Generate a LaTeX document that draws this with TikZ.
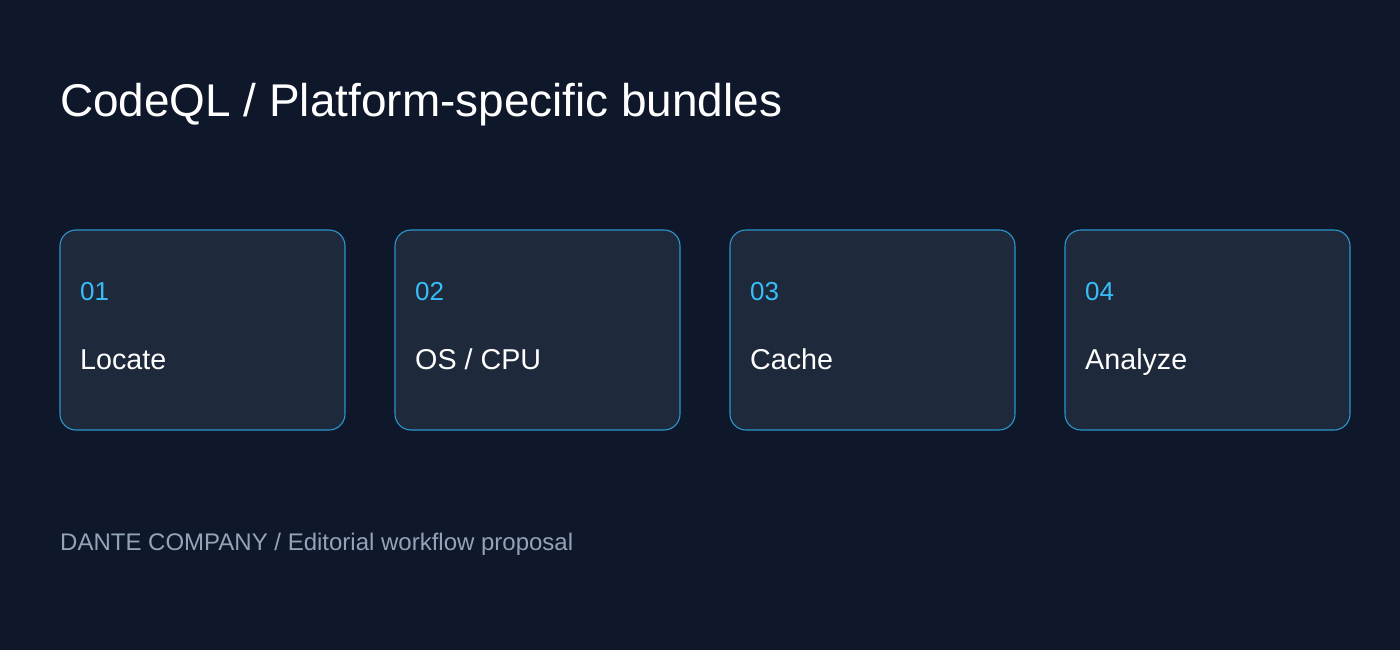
\documentclass[tikz,border=0pt]{standalone}
\usepackage{fontspec}
\setmainfont{Liberation Sans}
\usepackage{xcolor}
\usepackage{tikz}
\usetikzlibrary{positioning}
\definecolor{canvas}{RGB}{15,23,42}
\definecolor{cardbg}{RGB}{30,41,59}
\definecolor{edge}{RGB}{44,150,205}
\definecolor{accent}{RGB}{56,189,248}
\definecolor{muted}{RGB}{148,163,184}
\tikzset{
    card/.style={rectangle, rounded corners=16pt, minimum width=285pt, minimum height=200pt, draw=edge, line width=1.1pt, fill=cardbg},
    stepnum/.style={anchor=base west, inner sep=0pt, text=accent, font=\fontsize{26}{30}\selectfont},
    steplabel/.style={anchor=base west, inner sep=0pt, text=white, font=\fontsize{28.7}{34}\selectfont},
    headline/.style={anchor=base west, inner sep=0pt, text=white, font=\fontsize{45.9}{54}\selectfont},
    footnote/.style={anchor=base west, inner sep=0pt, text=muted, font=\fontsize{24}{28}\selectfont}
}
\begin{document}
\begin{tikzpicture}[x=1pt, y=-1pt]
    % Background
    \fill[canvas] (0,0) rectangle (1400,650);
    \useasboundingbox (0,0) rectangle (1400,650);

    % Title
    \node[headline] (title) at (60,117) {CodeQL / Platform-specific bundles};

    % Cards
    \node[card] (locate) at (202.5,330) {};
    \node[stepnum] (n1) at (80,300) {01};
    \node[steplabel] (l1) at (80,369) {Locate};

    \node[card] (oscpu) at (537.5,330) {};
    \node[stepnum] (n2) at (415,300) {02};
    \node[steplabel] (l2) at (415,369) {OS / CPU};

    \node[card] (cache) at (872.5,330) {};
    \node[stepnum] (n3) at (750,300) {03};
    \node[steplabel] (l3) at (750,369) {Cache};

    \node[card] (analyze) at (1207.5,330) {};
    \node[stepnum] (n4) at (1085,300) {04};
    \node[steplabel] (l4) at (1085,369) {Analyze};

    % Footer
    \node[footnote] (footer) at (60,550) {DANTE COMPANY / Editorial workflow proposal};
\end{tikzpicture}
\end{document}
